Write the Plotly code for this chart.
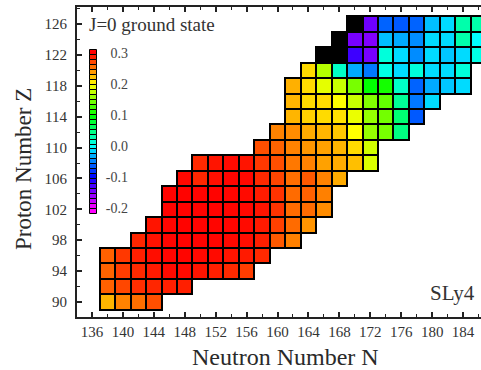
import plotly.graph_objects as go

# Even-even nuclei, one row per proton number Z.  Each row lists the
# ground-state quadrupole deformation beta2 for consecutive even N,
# starting at the neutron number given in N_FIRST.  None = off-scale (black).
Z_ROWS = [90, 92, 94, 96, 98, 100, 102, 104, 106, 108,
          110, 112, 114, 116, 118, 120, 122, 124, 126]
N_FIRST = [138, 138, 138, 138, 142, 144, 146, 146, 148, 150,
           158, 160, 162, 162, 162, 164, 166, 168, 170]
BETA2 = [
    [0.229, 0.249, 0.257, 0.269],
    [0.262, 0.272, 0.282, 0.285, 0.288, 0.288],
    [0.261, 0.276, 0.284, 0.290, 0.296, 0.296, 0.292, 0.288, 0.284, 0.276],
    [0.262, 0.278, 0.288, 0.295, 0.298, 0.298, 0.297, 0.296, 0.292, 0.290, 0.284],
    [0.285, 0.293, 0.298, 0.299, 0.299, 0.298, 0.297, 0.295, 0.288, 0.265, 0.250],
    [0.292, 0.298, 0.299, 0.299, 0.298, 0.298, 0.296, 0.290, 0.275, 0.258, 0.242],
    [0.299, 0.299, 0.299, 0.299, 0.298, 0.297, 0.292, 0.280, 0.258, 0.258, 0.245],
    [0.299, 0.299, 0.299, 0.299, 0.298, 0.296, 0.289, 0.280, 0.258, 0.262, 0.250],
    [0.297, 0.285, 0.294, 0.298, 0.297, 0.284, 0.273, 0.257, 0.265, 0.249, 0.233],
    [0.284, 0.292, 0.296, 0.292, 0.278, 0.269, 0.253, 0.249, 0.237, 0.233, 0.225, 0.186],
    [0.269, 0.261, 0.249, 0.241, 0.237, 0.229, 0.214, 0.182],
    [0.249, 0.245, 0.233, 0.229, 0.222, 0.200, 0.159, 0.147, 0.049],
    [0.229, 0.218, 0.214, 0.212, 0.192, 0.159, 0.145, 0.055, -0.065],
    [0.229, 0.214, 0.214, 0.200, 0.178, 0.151, 0.139, 0.041, -0.053, -0.014],
    [0.231, 0.214, 0.190, 0.178, 0.147, 0.100, 0.108, 0.022, -0.061, -0.033, -0.022, -0.014],
    [0.214, 0.171, 0.022, -0.033, -0.053, 0.010, -0.014, 0.014, -0.014, -0.014, 0.014],
    [None, None, -0.124, -0.147, 0.014, -0.014, -0.045, -0.014, -0.022, -0.014, 0.010],
    [None, -0.147, -0.151, -0.025, -0.033, -0.045, -0.014, -0.014, 0.033, 0.000],
    [None, -0.143, -0.061, -0.065, -0.061, -0.025, -0.014, 0.033, 0.033],
]

# Colour key: swatch values and labelled levels
KEY_VALUES = [round(-0.208 + 0.016 * k, 3) for k in range(33)]
KEY_TICKS = [0.3, 0.2, 0.1, 0.0, -0.1, -0.2]
KEY_LABELS = ["0.3", "0.2", "0.1", "0.0", "-0.1", "-0.2"]

BETA_MIN, BETA_MAX = -0.2, 0.3
RAINBOW = [[0.0, "#ff00ff"], [0.2, "#0000ff"], [0.4, "#00ffff"],
           [0.6, "#00ff00"], [0.8, "#ffff00"], [1.0, "#ff0000"]]
SERIF = "Liberation Serif"
INK = "#2a2a2a"

# flatten rows into cell lists
cell_n, cell_z, cell_b = [], [], []
off_n, off_z = [], []
for z, n0, row in zip(Z_ROWS, N_FIRST, BETA2):
    for i, b in enumerate(row):
        n = n0 + 2 * i
        if b is None:
            off_n.append(n)
            off_z.append(z)
        else:
            cell_n.append(n)
            cell_z.append(z)
            cell_b.append(b)

fig = go.Figure()

fig.add_trace(go.Bar(
    x=cell_n, y=[2] * len(cell_n), base=[z - 1 for z in cell_z], width=2,
    marker=dict(color=cell_b, colorscale=RAINBOW, cmin=BETA_MIN, cmax=BETA_MAX,
                line=dict(color="black", width=2)),
    showlegend=False, hoverinfo="skip"))

fig.add_trace(go.Bar(
    x=off_n, y=[2] * len(off_n), base=[z - 1 for z in off_z], width=2,
    marker=dict(color="black", line=dict(color="black", width=2)),
    showlegend=False, hoverinfo="skip"))

# colour key column inside the frame
step = 0.016
fig.add_trace(go.Bar(
    x=[16] * len(KEY_VALUES), y=[step] * len(KEY_VALUES),
    base=[v - step / 2 for v in KEY_VALUES], width=7,
    marker=dict(color=KEY_VALUES, colorscale=RAINBOW, cmin=BETA_MIN, cmax=BETA_MAX,
                line=dict(color="black", width=1)),
    xaxis="x2", yaxis="y2", showlegend=False, hoverinfo="skip"))

fig.add_trace(go.Scatter(
    x=[51] * len(KEY_TICKS), y=KEY_TICKS, mode="text", text=KEY_LABELS,
    textposition="middle left", textfont=dict(family=SERIF, size=14, color="#444"),
    xaxis="x2", yaxis="y2", showlegend=False, hoverinfo="skip"))

axis_common = dict(
    showgrid=False, zeroline=False, showline=True, linewidth=2, linecolor="#222",
    ticks="inside", ticklen=5, tickwidth=1.5, tickcolor="#222",
    tickfont=dict(family=SERIF, size=15, color="#333"),
    minor=dict(ticks="inside", ticklen=3, tickwidth=1.2, tickcolor="#222", dtick=2),
)

fig.update_layout(
    width=481, height=370,
    margin=dict(l=77, r=0, t=7, b=53),
    paper_bgcolor="white", plot_bgcolor="white",
    barmode="overlay", bargap=0,
    xaxis=dict(range=[134.06, 186.32], tick0=136, dtick=4, mirror="ticks",
               ticklabelstandoff=0, **axis_common),
    yaxis=dict(range=[88.06, 128.2], tick0=90, dtick=4, mirror=False,
               ticklabelstandoff=5, **axis_common),
    xaxis2=dict(range=[0, 404], overlaying="x", visible=False),
    yaxis2=dict(range=[-0.5484, 0.4516], overlaying="y", visible=False),
    annotations=[
        dict(text="Neutron Number N", xref="paper", yref="paper",
             x=0.517, y=-0.129, xanchor="center", yanchor="middle", showarrow=False,
             font=dict(family=SERIF, size=24, color=INK)),
        dict(text="Proton Number Z", xref="paper", yref="paper", textangle=-90,
             x=-0.134, y=0.477, xanchor="center", yanchor="middle", showarrow=False,
             font=dict(family=SERIF, size=23, color=INK)),
        dict(text="J=0 ground state", xref="paper", yref="paper",
             x=0.0248, y=0.942, xanchor="left", yanchor="middle", showarrow=False,
             font=dict(family=SERIF, size=19, color="#333")),
        dict(text="SLy4", xref="paper", yref="paper",
             x=0.99, y=0.077, xanchor="right", yanchor="middle", showarrow=False,
             font=dict(family=SERIF, size=21, color="#333")),
    ],
)

fig.write_html("out.html")
